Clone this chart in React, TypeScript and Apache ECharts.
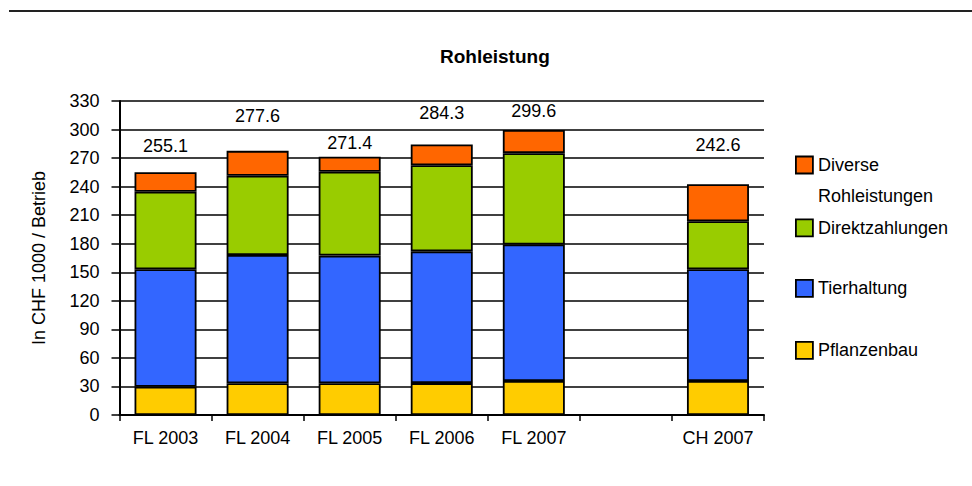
import React, { useEffect, useRef } from "react";
import * as echarts from "echarts";

const categories = ["FL 2003", "FL 2004", "FL 2005", "FL 2006", "FL 2007", "", "CH 2007"];
const pflanzenbau = [29.7, 33.3, 33.3, 33.5, 35.7, null, 35.7];
const tierhaltung = [123.4, 134.9, 134.2, 138.5, 143.5, null, 117.4];
const direktzahlungen = [81.6, 83.3, 88.2, 90.5, 96.0, null, 50.5];
const diverse = [20.4, 26.1, 15.7, 21.8, 24.4, null, 39.0];
const totals = [255.1, 277.6, 271.4, 284.3, 299.6, null, 242.6];
const yTicks = { min: 0, max: 330, interval: 30 };

// label lift above the top of each bar (px) – layout only
const labelLift = [12, 21, 0, 17, 5, 0, 25];

const FONT = "Liberation Sans, Arial, sans-serif";
const COLORS = {
  pflanzenbau: "#FFCC00",
  tierhaltung: "#3366FF",
  direktzahlungen: "#99CC00",
  diverse: "#FF6600",
};

export default function App() {
  const ref = useRef<HTMLDivElement>(null);
  useEffect(() => {
    document.body.style.margin = "0";
    if (!ref.current) return;
    const chart = echarts.init(ref.current, null, { renderer: "svg" });
    const border = { borderColor: "#000", borderWidth: 1.8 };
    const mk = (name: string, data: (number | null)[], color: string) => ({
      name,
      type: "bar",
      stack: "total",
      barWidth: 62,
      itemStyle: { color, ...border },
      data,
    });
    const legendBase = {
      orient: "vertical",
      left: 795,
      padding: 0,
      itemWidth: 17,
      itemHeight: 17,
      itemGap: 0,
      icon: "rect",
      itemStyle: { borderColor: "#000", borderWidth: 1.8 },
      textStyle: { fontFamily: FONT, fontSize: 18, color: "#000", lineHeight: 17 },
      selectedMode: false,
    };
    const option: any = {
      animation: false,
      backgroundColor: "#fff",
      title: {
        text: "Rohleistung",
        left: 440,
        top: 47,
        padding: 0,
        textStyle: { fontFamily: FONT, fontSize: 19, fontWeight: "bold", color: "#000" },
      },
      graphic: [
        {
          type: "line",
          shape: { x1: 9, y1: 11, x2: 972, y2: 11 },
          style: { stroke: "#222", lineWidth: 2 },
        },
      ],
      legend: [
        {
          ...legendBase,
          top: 118.5,
          data: ["Diverse Rohleistungen"],
          formatter: () => "\nDiverse\nRohleistungen",
          textStyle: { ...legendBase.textStyle, lineHeight: 31 },
        },
        { ...legendBase, top: 218.5, data: ["Direktzahlungen"] },
        { ...legendBase, top: 279, data: ["Tierhaltung"] },
        { ...legendBase, top: 341, data: ["Pflanzenbau"] },
      ],
      grid: { left: 119.5, right: 208, top: 101, bottom: 71, containLabel: false },
      xAxis: {
        type: "category",
        data: categories,
        boundaryGap: true,
        axisLine: { lineStyle: { color: "#000", width: 2 } },
        axisTick: { show: true, length: 6, alignWithLabel: false, lineStyle: { color: "#000", width: 1.5 } },
        axisLabel: { fontFamily: FONT, fontSize: 18, color: "#000", margin: 14, interval: 0 },
      },
      yAxis: {
        type: "value",
        min: yTicks.min,
        max: yTicks.max,
        interval: yTicks.interval,
        name: "In CHF 1000 / Betrieb",
        nameLocation: "middle",
        nameGap: 72,
        nameTextStyle: { fontFamily: FONT, fontSize: 18, color: "#000" },
        axisLine: { show: true, lineStyle: { color: "#000", width: 2 } },
        axisTick: { show: true, length: 8, lineStyle: { color: "#000", width: 1.5 } },
        axisLabel: { fontFamily: FONT, fontSize: 18, color: "#000", margin: 20 },
        splitLine: { show: true, lineStyle: { color: "#000", width: 1.6 } },
      },
      series: [
        mk("Pflanzenbau", pflanzenbau, COLORS.pflanzenbau),
        mk("Tierhaltung", tierhaltung, COLORS.tierhaltung),
        mk("Direktzahlungen", direktzahlungen, COLORS.direktzahlungen),
        {
          ...mk("Diverse Rohleistungen", [], COLORS.diverse),
          data: diverse.map((v, i) => ({
            value: v,
            label: { offset: [0, -labelLift[i]] },
          })),
          label: {
            show: true,
            position: "top",
            distance: 5,
            fontFamily: FONT,
            fontSize: 18,
            color: "#000",
            formatter: (p: any) => (totals[p.dataIndex] == null ? "" : totals[p.dataIndex]!.toFixed(1)),
          },
        },
      ],
    };
    chart.setOption(option);
    return () => chart.dispose();
  }, []);
  return <div ref={ref} style={{ width: 972, height: 486 }} />;
}
